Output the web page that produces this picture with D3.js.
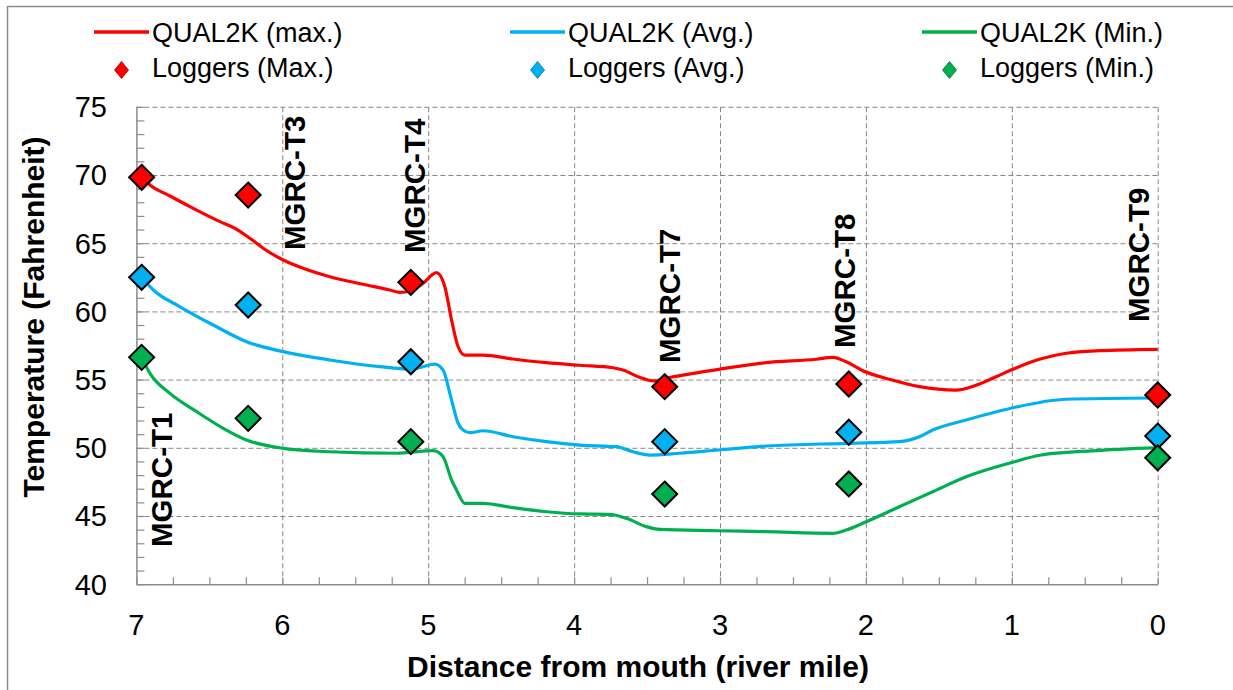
<!DOCTYPE html>
<html>
<head>
<meta charset="utf-8">
<script src="https://cdnjs.cloudflare.com/ajax/libs/d3/7.8.5/d3.min.js"></script>
<style>
	body{margin:0;background:#fff;}
	text{font-family:"Liberation Sans",Arial,sans-serif;}
</style>
</head>
<body>
<div id="canvas"></div>
<script>
// QUAL2K model output, [river mile, deg F]
var modelMax = [
	[6.964,69.83],[6.907,69.27],[6.770,68.46],[6.587,67.43],[6.427,66.58],[6.313,66.02],
	[6.222,65.36],[6.131,64.63],[5.994,63.77],[5.857,63.16],[5.674,62.54],[5.446,61.99],
	[5.263,61.57],[5.195,61.40],[5.119,61.50],[5.035,62.06],[4.943,62.84],[4.886,61.81],
	[4.840,59.37],[4.795,57.41],[4.749,56.80],[4.624,56.80],[4.418,56.51],[4.190,56.24],
	[3.962,56.05],[3.734,55.87],[3.665,55.70],[3.551,55.17],[3.460,54.90],[3.345,55.15],
	[3.010,55.75],[2.683,56.24],[2.340,56.49],[2.227,56.63],[2.135,56.31],[2.021,55.65],
	[1.838,55.02],[1.633,54.48],[1.382,54.23],[1.245,54.59],[1.108,55.21],[1.005,55.70],
	[0.811,56.49],[0.628,56.93],[0.400,57.12],[0.000,57.22]
];
var modelAvg = [
	[6.964,62.50],[6.884,61.57],[6.701,60.34],[6.473,59.00],[6.245,57.78],[5.994,57.05],
	[5.674,56.44],[5.332,55.95],[5.119,55.76],[5.035,55.95],[4.955,56.14],[4.898,55.70],
	[4.840,53.50],[4.795,51.80],[4.761,51.30],[4.715,51.11],[4.624,51.25],[4.418,50.81],
	[4.190,50.45],[3.962,50.20],[3.710,50.08],[3.597,49.71],[3.482,49.47],[3.277,49.60],
	[3.010,49.84],[2.683,50.13],[2.113,50.33],[1.771,50.45],[1.633,50.81],[1.542,51.30],
	[1.313,52.04],[1.005,52.90],[0.628,53.56],[0.000,53.65]
];
var modelMin = [
	[6.964,56.63],[6.907,55.46],[6.770,53.99],[6.587,52.65],[6.405,51.43],[6.245,50.57],
	[5.994,49.96],[5.674,49.71],[5.217,49.60],[4.966,49.79],[4.898,49.35],[4.840,47.64],
	[4.806,46.91],[4.749,45.93],[4.624,45.93],[4.418,45.61],[4.190,45.31],[3.962,45.15],
	[3.756,45.12],[3.642,44.83],[3.505,44.22],[3.414,44.02],[3.010,43.92],[2.683,43.85],
	[2.227,43.73],[2.135,43.97],[1.998,44.58],[1.771,45.68],[1.542,46.78],[1.313,47.88],
	[1.005,48.91],[0.797,49.47],[0.455,49.77],[0.000,50.01]
];

// temperature loggers
var loggerMile = [6.964, 6.234, 5.119, 3.379, 2.117, 0.0];
var loggerMax = [69.83, 68.53, 62.13, 54.48, 54.68, 53.87];
var loggerAvg = [62.50, 60.47, 56.31, 50.45, 51.14, 50.86];
var loggerMin = [56.63, 52.16, 50.45, 46.61, 47.35, 49.27];

// station names, anchored (start of rotated text) in data units
var stationNames = ["MGRC-T1", "MGRC-T3", "MGRC-T4", "MGRC-T7", "MGRC-T8", "MGRC-T9"];
var stationLabelMile = [6.756, 5.845, 5.023, 3.277, 2.078, 0.058];
var stationLabelTemp = [42.73, 64.50, 64.28, 56.22, 57.32, 59.22];

var xTicks = [7, 6, 5, 4, 3, 2, 1, 0];
var yTicks = [40, 45, 50, 55, 60, 65, 70, 75];

var lineNames = ["QUAL2K (max.)", "QUAL2K (Avg.)", "QUAL2K (Min.)"];
var markerNames = ["Loggers (Max.)", "Loggers (Avg.)", "Loggers (Min.)"];
var colors = ["#ff0000", "#00b0f0", "#00b050"];

drawChart();

function drawChart(){
	var w = 1233, h = 690;
	var pLeft = 136.4, pRight = 1157.7, pTop = 106.8, pBottom = 584.2;

	var svg = d3.select("#canvas")
		.append("svg")
		.attr("width", w)
		.attr("height", h);

	// outer chart frame
	svg.append("rect")
		.attr("x", 7.5)
		.attr("y", 6.5)
		.attr("width", 1400)
		.attr("height", 900)
		.attr("fill", "none")
		.attr("stroke", "#8c8c8c")
		.attr("stroke-width", 1.5);

	var xScale = d3.scaleLinear()
		.domain([7, 0])
		.range([pLeft, pRight]);

	var yScale = d3.scaleLinear()
		.domain([40, 75])
		.range([pBottom, pTop]);

	// dashed grid
	svg.append("g")
		.attr("class", "grid")
		.attr("transform", "translate(" + pLeft + ",0)")
		.call(d3.axisLeft(yScale).tickValues(yTicks.slice(1)).tickSize(-(pRight - pLeft)).tickFormat(""))
		.call(function(g){ g.select(".domain").remove(); });

	svg.append("g")
		.attr("class", "grid")
		.attr("transform", "translate(0," + pBottom + ")")
		.call(d3.axisBottom(xScale).tickValues(xTicks.slice(1)).tickSize(-(pBottom - pTop)).tickFormat(""))
		.call(function(g){ g.select(".domain").remove(); });

	svg.selectAll(".grid line")
		.attr("stroke", "#858585")
		.attr("stroke-width", 1)
		.attr("stroke-dasharray", "5,3");

	// minor ticks, pointing into the plot
	svg.append("g")
		.attr("class", "minor")
		.attr("transform", "translate(" + pLeft + ",0)")
		.call(d3.axisLeft(yScale).tickValues(d3.range(40, 76, 1)).tickSize(-8).tickSizeOuter(0).tickFormat(""));

	svg.append("g")
		.attr("class", "minor")
		.attr("transform", "translate(0," + pBottom + ")")
		.call(d3.axisBottom(xScale).tickValues(d3.range(0, 7.01, 0.25)).tickSize(-7).tickSizeOuter(0).tickFormat(""));

	svg.selectAll(".minor .domain").attr("stroke", "#8c8c8c").attr("stroke-width", 1.5);
	svg.selectAll(".minor line").attr("stroke", "#8c8c8c").attr("stroke-width", 1.2);

	// tick labels
	svg.selectAll(".ylab")
		.data(yTicks)
		.enter()
		.append("text")
		.attr("class", "ylab")
		.attr("x", 107)
		.attr("y", function(d){ return yScale(d); })
		.attr("dy", "0.36em")
		.attr("text-anchor", "end")
		.attr("font-size", 29)
		.attr("fill", "#000")
		.text(function(d){ return d; });

	svg.selectAll(".xlab")
		.data(xTicks)
		.enter()
		.append("text")
		.attr("class", "xlab")
		.attr("x", function(d){ return xScale(d); })
		.attr("y", 635)
		.attr("text-anchor", "middle")
		.attr("font-size", 29)
		.attr("fill", "#000")
		.text(function(d){ return d; });

	// axis titles
	svg.append("text")
		.attr("transform", "translate(43.5,317) rotate(-90)")
		.attr("text-anchor", "middle")
		.attr("font-size", 30)
		.attr("font-weight", "bold")
		.text("Temperature (Fahrenheit)");

	svg.append("text")
		.attr("x", 638)
		.attr("y", 677)
		.attr("text-anchor", "middle")
		.attr("font-size", 30)
		.attr("font-weight", "bold")
		.text("Distance from mouth (river mile)");

	// model lines
	var line = d3.line()
		.x(function(d){ return xScale(d[0]); })
		.y(function(d){ return yScale(d[1]); })
		.curve(d3.curveMonotoneX);

	[modelMax, modelAvg, modelMin].forEach(function(series, i){
		svg.append("path")
			.datum(series)
			.attr("d", line)
			.attr("fill", "none")
			.attr("stroke", colors[i])
			.attr("stroke-width", 3.2)
			.attr("stroke-linejoin", "round");
	});

	// logger diamonds
	function diamond(cx, cy, rx, ry){
		return "M" + cx + "," + (cy - ry) + "L" + (cx + rx) + "," + cy + "L" + cx + "," + (cy + ry) + "L" + (cx - rx) + "," + cy + "Z";
	}

	[loggerMax, loggerAvg, loggerMin].forEach(function(vals, i){
		svg.selectAll(".logger" + i)
			.data(vals)
			.enter()
			.append("path")
			.attr("class", "logger" + i)
			.attr("d", function(d, j){ return diamond(xScale(loggerMile[j]), yScale(d), 12.5, 12.5); })
			.attr("fill", colors[i])
			.attr("stroke", "#000")
			.attr("stroke-width", 2);
	});

	// station labels
	svg.selectAll(".station")
		.data(stationNames)
		.enter()
		.append("text")
		.attr("class", "station")
		.attr("transform", function(d, i){
			return "translate(" + xScale(stationLabelMile[i]) + "," + yScale(stationLabelTemp[i]) + ") rotate(-90)";
		})
		.attr("font-size", 29.5)
		.attr("font-weight", "bold")
		.attr("fill", "#000")
		.text(function(d){ return d; });

	// legend
	var legendLineX = [94, 510, 922];
	lineNames.forEach(function(name, i){
		var lg = svg.append("g").attr("transform", "translate(" + legendLineX[i] + ",0)");
		lg.append("line")
			.attr("x1", 0).attr("x2", 55)
			.attr("y1", 32).attr("y2", 32)
			.attr("stroke", colors[i])
			.attr("stroke-width", 3.5);
		lg.append("text")
			.attr("x", 58)
			.attr("y", 42)
			.attr("font-size", 27)
			.attr("fill", "#000")
			.text(name);
		lg.append("path")
			.attr("d", diamond(27.5, 70, 7, 8.5))
			.attr("fill", colors[i])
			.attr("stroke", d3.color(colors[i]).darker(1.2))
			.attr("stroke-width", 0.8);
		lg.append("text")
			.attr("x", 58)
			.attr("y", 77)
			.attr("font-size", 27)
			.attr("fill", "#000")
			.text(markerNames[i]);
	});
}
</script>
</body>
</html>
